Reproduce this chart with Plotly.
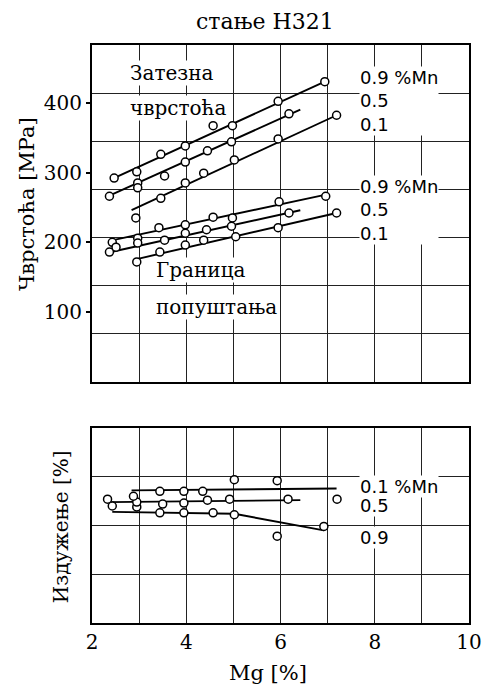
import plotly.graph_objects as go

# Mg content [%] and measured values for the three Mn levels (temper H321)
mn_levels = ["0.9", "0.5", "0.1"]

# Tensile strength [MPa]
ts_mg = {
    "0.9": [2.47, 2.95, 3.46, 3.98, 4.57, 4.98, 5.95, 6.94],
    "0.5": [2.37, 2.97, 2.97, 3.54, 3.98, 4.45, 4.96, 6.18],
    "0.1": [2.93, 3.46, 3.98, 4.37, 5.02, 5.95, 7.19],
}
ts_val = {
    "0.9": [292, 301, 326, 338, 367, 367, 402, 430],
    "0.5": [266, 285, 278, 295, 315, 331, 344, 384],
    "0.1": [235, 263, 285, 299, 318, 348, 382],
}
ts_line_mg = {"0.9": [2.43, 6.94], "0.5": [2.31, 6.42], "0.1": [2.84, 7.19]}
ts_line_val = {"0.9": [291, 430], "0.5": [265, 390], "0.1": [246, 382]}

# Yield strength [MPa]
ys_mg = {
    "0.9": [2.43, 2.97, 3.42, 3.98, 4.57, 4.98, 5.97, 6.96],
    "0.5": [2.37, 2.51, 2.97, 3.54, 3.98, 4.43, 4.96, 6.18],
    "0.1": [2.95, 3.44, 3.98, 4.37, 5.05, 5.95, 7.19],
}
ys_val = {
    "0.9": [200, 206, 221, 225, 236, 235, 258, 266],
    "0.5": [186, 193, 199, 203, 213, 218, 223, 242],
    "0.1": [172, 186, 196, 203, 208, 221, 242],
}
ys_line_mg = {"0.9": [2.37, 6.94], "0.5": [2.33, 6.42], "0.1": [2.95, 7.19]}
ys_line_val = {"0.9": [202, 268], "0.5": [185, 246], "0.1": [176, 242]}

# Elongation [%]
el_mg = {
    "0.1": [2.88, 3.44, 3.95, 4.35, 5.02, 5.93, 7.2],
    "0.5": [2.33, 2.95, 3.50, 3.95, 4.45, 4.92, 6.16],
    "0.9": [2.43, 2.95, 3.44, 3.95, 4.57, 5.02, 5.93, 6.92],
}
el_val = {
    "0.1": [13.0, 13.5, 13.5, 13.5, 14.7, 14.6, 12.7],
    "0.5": [12.7, 12.4, 12.2, 12.3, 12.6, 12.7, 12.7],
    "0.9": [12.0, 11.9, 11.3, 11.3, 11.3, 11.1, 8.9, 9.9],
}
el_line_mg = {"0.1": [2.84, 7.19], "0.5": [2.37, 6.42], "0.9": [2.43, 5.02, 6.92]}
el_line_val = {"0.1": [13.6, 13.8], "0.5": [12.4, 12.6], "0.9": [11.4, 11.2, 9.5]}

# Axis settings
x_range = [2, 10]
x_ticks = [2, 3, 4, 5, 6, 7, 8, 9, 10]
x_tick_text = ["2", "", "4", "", "6", "", "8", "", "10"]
strength_range = [0, 482.6]
strength_grid_step = 68.94          # 10 ksi grid
strength_ticks = [100, 200, 300, 400]
elong_range = [0, 20]
elong_grid_step = 5

SERIF = "DejaVu Serif"
SANS = "DejaVu Sans"

fig = go.Figure()

line_style = dict(color="black", width=1.9)
marker_style = dict(symbol="circle", size=8, color="white",
                    line=dict(color="black", width=1.5))


def add_group(mg, val, lmg, lval, xa, ya):
    for k in mn_levels:
        fig.add_trace(go.Scatter(x=lmg[k], y=lval[k], mode="lines", line=line_style,
                                 xaxis=xa, yaxis=ya, showlegend=False, hoverinfo="skip"))
    for k in mn_levels:
        fig.add_trace(go.Scatter(x=mg[k], y=val[k], mode="markers", marker=marker_style,
                                 xaxis=xa, yaxis=ya, showlegend=False,
                                 name=k + " %Mn"))


add_group(ts_mg, ts_val, ts_line_mg, ts_line_val, "x", "y")
add_group(ys_mg, ys_val, ys_line_mg, ys_line_val, "x", "y")
add_group(el_mg, el_val, el_line_mg, el_line_val, "x2", "y2")

grid = dict(showgrid=True, gridcolor="#222", gridwidth=1)
frame = dict(showline=True, mirror=True, linecolor="black", linewidth=2,
             zeroline=False, fixedrange=True)

top_dom = [0.417, 1.0]
bot_dom = [0.0, 0.3374]

fig.update_layout(
    width=494, height=691,
    margin=dict(l=92, r=13, t=45, b=68),
    paper_bgcolor="white", plot_bgcolor="white",
    font=dict(family=SERIF, color="black", size=18),
    xaxis=dict(domain=[0, 1], range=x_range, tickvals=x_ticks, showticklabels=False,
               ticks="", anchor="y", **grid, **frame),
    yaxis=dict(domain=top_dom, range=strength_range, tick0=0, dtick=strength_grid_step,
               showticklabels=False, ticks="", anchor="x", **grid, **frame),
    yaxis3=dict(range=strength_range, overlaying="y", anchor="x", side="left",
                tickvals=strength_ticks, ticks="outside", ticklen=5, tickwidth=1.5,
                tickcolor="black", showgrid=False, zeroline=False, showline=False,
                tickfont=dict(family=SERIF, size=20)),
    xaxis2=dict(domain=[0, 1], range=x_range, tickvals=x_ticks, ticktext=x_tick_text,
                ticks="", anchor="y2", tickfont=dict(family=SERIF, size=20), **grid, **frame),
    yaxis2=dict(domain=bot_dom, range=elong_range, tick0=0, dtick=elong_grid_step,
                showticklabels=False, ticks="", anchor="x2", **grid, **frame),
)

# Invisible carrier trace so the tick axis is drawn
fig.add_trace(go.Scatter(x=[None], y=[None], xaxis="x", yaxis="y3",
                         showlegend=False, hoverinfo="skip"))

ann = []


def label(text, x, y, xref="x", yref="y", size=19, family=SERIF, xanchor="left",
          bg="white", angle=0, align="left"):
    ann.append(dict(text=text, x=x, y=y, xref=xref, yref=yref, showarrow=False,
                    xanchor=xanchor, yanchor="middle", textangle=angle, align=align,
                    font=dict(family=family, size=size, color="black"),
                    bgcolor=bg, borderpad=0))


# Series labels (Mn content)
label("0.9 %Mn<br>0.5<br>0.1", 7.66, 403, family=SANS, size=18)
label("0.9 %Mn<br>0.5<br>0.1", 7.66, 247, family=SANS, size=18)
label("0.1 %Mn", 7.66, 14.0, yref="y2", family=SANS, size=18)
label("0.5", 7.66, 12.0, yref="y2", family=SANS, size=18)
label("0.9", 7.66, 8.8, yref="y2", family=SANS, size=18)

# Curve group names
label("Затезна", 2.78, 442, size=20)
label("чврстоћа", 2.78, 393, size=20)
label("Граница", 3.34, 160, size=20)
label("попуштања", 3.34, 107, size=20)

# Title and axis titles
label("стање H321", 0.458, 1.04, xref="paper", yref="paper", size=22,
      xanchor="center", bg="rgba(0,0,0,0)")
label("Чврстоћа [MPa]", -0.172, 0.725, xref="paper", yref="paper", size=21,
      xanchor="center", bg="rgba(0,0,0,0)", angle=-90)
label("Издужење [%]", -0.082, 0.166, xref="paper", yref="paper", size=20,
      xanchor="center", bg="rgba(0,0,0,0)", angle=-90)
label("Mg [%]", 0.466, -0.087, xref="paper", yref="paper", size=21,
      xanchor="center", bg="rgba(0,0,0,0)")

fig.update_layout(annotations=ann)

fig.write_html("out.html")
